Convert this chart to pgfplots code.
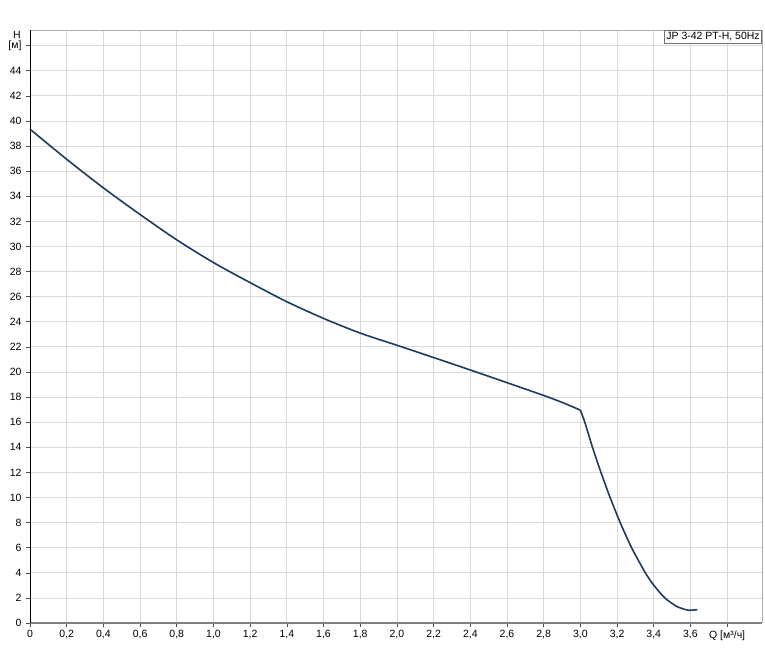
\documentclass[border=0pt]{standalone}
\usepackage{pgfplots}
\pgfplotsset{compat=1.18}
\usepackage{fontspec}
\setmainfont{Liberation Sans}
\definecolor{curve}{HTML}{1F3A5F}
\definecolor{gridc}{HTML}{D9D9D9}
\begin{document}
\begin{tikzpicture}
\path[use as bounding box] (0,0) rectangle (765pt,670pt);
\begin{axis}[
  at={(30pt,47pt)}, anchor=south west,
  scale only axis, width=732pt, height=593pt,
  xmin=0, xmax=3.99, ymin=0, ymax=47.25,
  font=\fontsize{10.5}{12}\selectfont,
  /pgf/number format/assume math mode=true,
  xtick={0,0.2,...,3.81},
  xticklabels={0,{0,2},{0,4},{0,6},{0,8},{1,0},{1,2},{1,4},{1,6},{1,8},{2,0},{2,2},{2,4},{2,6},{2,8},{3,0},{3,2},{3,4},{3,6},{Q [м³/ч]}},
  ytick={0,2,...,46},
  yticklabels={0,2,4,6,8,10,12,14,16,18,20,22,24,26,28,30,32,34,36,38,40,42,44,{[м]}},
  grid=major,
  major grid style={gridc, line width=0.8pt},
  tick align=outside, major tick length=4pt,
  tick style={black!70, line width=0.6pt},
  xtick pos=bottom, ytick pos=left,
  axis line style={draw=none},
  xticklabel style={yshift=0pt},
  yticklabel style={xshift=-1pt},
  clip=false,
]
\draw[gridc!80!black, line width=0.6pt] (rel axis cs:0,1) -- (rel axis cs:1,1) -- (rel axis cs:1,0);
\draw[black!50, line width=1.6pt] (rel axis cs:0,0) -- (rel axis cs:1,0);
\draw[black, line width=1pt] (rel axis cs:0,0) -- (rel axis cs:0,1);
\addplot[curve, line width=1.6pt, smooth, tension=0.5] coordinates {
(0,39.35) (0.2,36.95) (0.4,34.67) (0.6,32.55) (0.8,30.53) (1.0,28.72) (1.2,27.12)
(1.4,25.6) (1.6,24.27) (1.8,23.1) (2.0,22.13) (2.2,21.15) (2.4,20.16) (2.6,19.15)
(2.8,18.13) (2.9,17.58) (3.0,16.96)
};
\addplot[curve, line width=1.6pt, smooth, tension=0.4] coordinates {
(3.0,16.96) (3.024,16) (3.066,14) (3.112,12) (3.162,10) (3.217,8) (3.279,6) (3.354,4)
(3.40,3.01) (3.46,2) (3.524,1.33) (3.587,1.02) (3.638,1.07)
};
\node[anchor=east, inner sep=0pt] at ([xshift=-9pt]axis cs:0,46.9) {H};
\node[anchor=north east, draw=black!55, fill=white, inner sep=2pt, line width=0.6pt] at (rel axis cs:1,1) {JP 3-42 PT-H, 50Hz};
\end{axis}
\end{tikzpicture}
\end{document}
